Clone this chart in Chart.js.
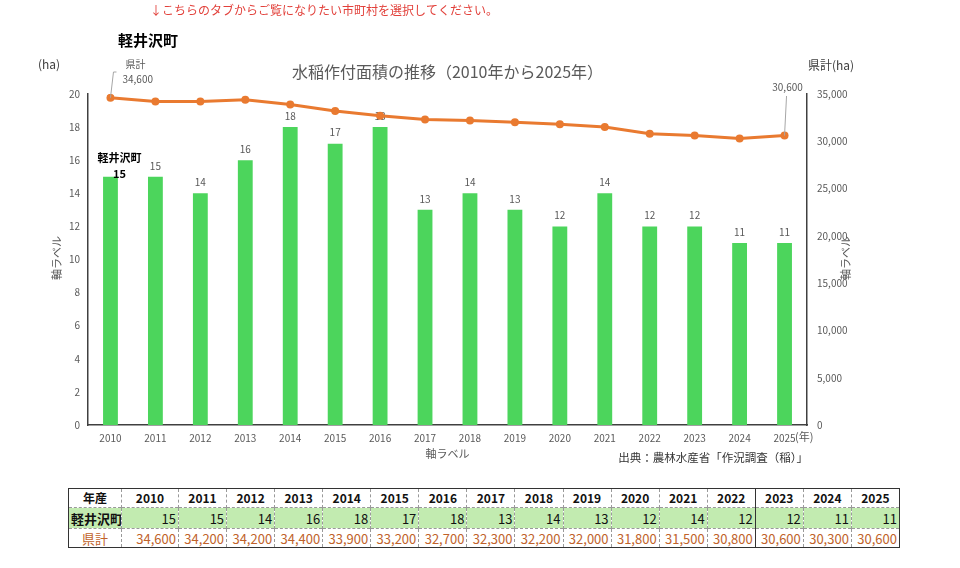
<!DOCTYPE html>
<html><head><meta charset="utf-8">
<script src="https://cdn.jsdelivr.net/npm/chart.js@4/dist/chart.umd.min.js"></script>
<style>
body{margin:0;background:#fff;width:960px;height:568px;overflow:hidden;position:relative;font-family:'Noto Sans CJK JP',sans-serif;}
#c{position:absolute;left:0;top:0;}
#tbl{position:absolute;left:68px;top:488px;border-collapse:collapse;width:832px;table-layout:fixed;border:1px solid #333;}
#tbl td{padding:0 2px;border-left:1px dashed #999;border-top:1px dashed #999;white-space:nowrap;overflow:hidden;line-height:1;}
#tbl tr.h td{height:18px;font-weight:bold;font-size:12px;text-align:center;color:#111;border-top:none;}
#tbl tr.k td{height:20px;background:#c2ebb0;text-align:right;font-size:13px;color:#111;}
#tbl tr.p td{height:18px;text-align:right;font-size:13px;color:#c0622a;}
#tbl td.lab{text-align:center !important;font-weight:bold;border-left:none;}
#tbl tr.p td.lab{font-weight:normal;color:#c0622a;}
#tbl td.solid{border-left:1px solid #333;}
</style>
</head><body>
<canvas id="c" width="960" height="470"></canvas>
<table id="tbl"></table>
<script>
// ---- data ----
const years = ['2010','2011','2012','2013','2014','2015','2016','2017','2018','2019','2020','2021','2022','2023','2024','2025'];
const karuizawa = [15,15,14,16,18,17,18,13,14,13,12,14,12,12,11,11];
const kenkei = [34600,34200,34200,34400,33900,33200,32700,32300,32200,32000,31800,31500,30800,30600,30300,30600];
const townName = '軽井沢町';
const prefName = '県計';
const leftTicks = {min:0,max:20,step:2};
const rightTicks = {min:0,max:35000,step:5000};

const FONT = "'Noto Sans CJK JP', sans-serif";
const GRAY = '#595959';
const fmt = v => Number(v).toLocaleString('en-US');

// ---- table ----
(function(){
  const t = document.getElementById('tbl');
  let cg = '<colgroup><col style="width:53px"><col style="width:57px">';
  for(let i=1;i<years.length;i++) cg += '<col>';
  cg += '</colgroup>';
  const cls = i => (years[i]==='2023' ? ' class="solid"' : '');
  let h = '<tr class="h"><td class="lab">年産</td>' + years.map((y,i)=>'<td'+cls(i)+'>'+y+'</td>').join('') + '</tr>';
  let k = '<tr class="k"><td class="lab">'+townName+'</td>' + karuizawa.map((v,i)=>'<td'+cls(i)+'>'+v+'</td>').join('') + '</tr>';
  let p = '<tr class="p"><td class="lab">'+prefName+'</td>' + kenkei.map((v,i)=>'<td'+cls(i)+'>'+fmt(v)+'</td>').join('') + '</tr>';
  t.innerHTML = cg + h + k + p;
})();

// ---- annotations ----
const annot = {
  id:'annot',
  afterDatasetDraw(chart,args){
    if(args.index!==0) return;
    const ctx = chart.ctx;
    const meta = chart.getDatasetMeta(0);
    ctx.save();
    ctx.textAlign='center'; ctx.textBaseline='middle';
    meta.data.forEach((bar,i)=>{
      if(i===0){
        ctx.fillStyle='#000';
        ctx.font='bold 11px '+FONT;
        ctx.fillText(townName, bar.x+9, bar.y-19);
        ctx.fillText(String(karuizawa[i]), bar.x+9, bar.y-3);
      } else {
        ctx.fillStyle=GRAY;
        ctx.font='10px '+FONT;
        ctx.fillText(String(karuizawa[i]), bar.x, bar.y-11);
      }
    });
    ctx.restore();
  },
  afterDraw(chart){
    const ctx = chart.ctx;
    const ca = chart.chartArea;
    ctx.save();
    ctx.textBaseline='middle';
    // red instruction
    ctx.fillStyle='#e2413b'; ctx.font='12px '+FONT; ctx.textAlign='left';
    ctx.fillText('↓こちらのタブからご覧になりたい市町村を選択してください。',150,10);
    // town heading
    ctx.fillStyle='#000'; ctx.font='bold 15px '+FONT;
    ctx.fillText(townName,118,40);
    // chart title
    ctx.fillStyle=GRAY; ctx.font='16px '+FONT; ctx.textAlign='center';
    ctx.fillText('水稲作付面積の推移（2010年から2025年）',(ca.left+ca.right)/2,72);
    // unit labels
    ctx.fillStyle='#404040'; ctx.font='12px '+FONT;
    ctx.fillText('(ha)',49,64);
    ctx.textAlign='left';
    ctx.fillText('県計(ha)',808,65);
    // (年)
    ctx.fillStyle=GRAY; ctx.font='11px '+FONT;
    ctx.fillText('(年)',795,437);
    // x axis title
    ctx.textAlign='center';
    ctx.fillText('軸ラベル',(ca.left+ca.right)/2,454);
    // source
    ctx.fillStyle='#333'; ctx.font='11.5px '+FONT; ctx.textAlign='right';
    ctx.fillText('出典：農林水産省「作況調査（稲）」',808,458);
    // vertical axis titles
    ctx.fillStyle=GRAY; ctx.font='11px '+FONT; ctx.textAlign='center';
    ctx.save(); ctx.translate(57,258); ctx.rotate(-Math.PI/2); ctx.fillText('軸ラベル',0,0); ctx.restore();
    ctx.save(); ctx.translate(846,258); ctx.rotate(-Math.PI/2); ctx.fillText('軸ラベル',0,0); ctx.restore();
    // line labels with leaders
    const lm = chart.getDatasetMeta(1);
    const p0 = lm.data[0], pn = lm.data[lm.data.length-1];
    ctx.strokeStyle='#a6a6a6'; ctx.lineWidth=1;
    ctx.beginPath(); ctx.moveTo(p0.x,p0.y); ctx.lineTo(p0.x+3,72); ctx.lineTo(p0.x+6,72); ctx.stroke();
    ctx.beginPath(); ctx.moveTo(pn.x,pn.y); ctx.lineTo(pn.x+2,96); ctx.stroke();
    ctx.fillStyle=GRAY; ctx.font='10px '+FONT; ctx.textAlign='left';
    ctx.fillText(prefName,p0.x+15,64);
    ctx.fillText(fmt(kenkei[0]),p0.x+12,79);
    ctx.textAlign='center';
    ctx.fillText(fmt(kenkei[kenkei.length-1]),pn.x+3,87);
    ctx.restore();
  }
};

new Chart(document.getElementById('c'),{
  type:'bar',
  data:{
    labels:years,
    datasets:[
      {type:'bar',label:townName,data:karuizawa,backgroundColor:'#4cd55c',borderWidth:0,
       barPercentage:0.33,categoryPercentage:1,yAxisID:'y',order:1},
      {type:'line',label:prefName,data:kenkei,borderColor:'#e97a30',backgroundColor:'#e97a30',
       borderWidth:3,pointRadius:4,pointBackgroundColor:'#e97a30',pointBorderWidth:0,
       tension:0,yAxisID:'y2',order:0}
    ]
  },
  options:{
    responsive:false,animation:false,
    layout:{padding:{top:94,left:0,right:0,bottom:0}},
    plugins:{legend:{display:false},tooltip:{enabled:false},title:{display:false}},
    scales:{
      x:{grid:{display:false,drawTicks:false},border:{display:true,color:'#404040',width:1.5},
         ticks:{color:GRAY,font:{size:10,family:FONT},padding:7,maxRotation:0,autoSkip:false},
         afterFit(s){s.height=45;}},
      y:{position:'left',min:leftTicks.min,max:leftTicks.max,
         grid:{display:false,drawTicks:false},border:{display:true,color:'#404040',width:1.5},
         ticks:{stepSize:leftTicks.step,color:GRAY,font:{size:10,family:FONT},padding:8},
         afterFit(s){s.width=88;}},
      y2:{position:'right',min:rightTicks.min,max:rightTicks.max,
         grid:{display:false,drawTicks:false},border:{display:true,color:'#404040',width:1.5},
         ticks:{stepSize:rightTicks.step,color:GRAY,font:{size:10,family:FONT},padding:10,callback:v=>fmt(v)},
         afterFit(s){s.width=153;}}
    }
  },
  plugins:[annot]
});
</script>
</body></html>
